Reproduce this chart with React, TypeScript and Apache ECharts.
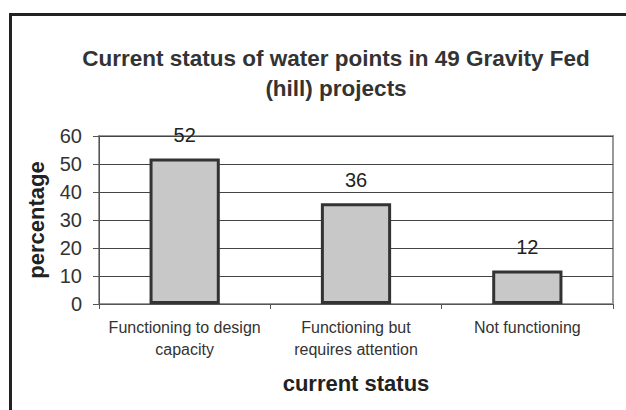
import React, { useEffect, useRef } from "react";
import * as echarts from "echarts";

const categories = ["Functioning to design\ncapacity", "Functioning but\nrequires attention", "Not functioning"];
const values = [52, 36, 12];
const titleText = "Current status of water points in 49 Gravity Fed\n(hill) projects";
const xName = "current status";
const yName = "percentage";

export default function App() {
  const ref = useRef<HTMLDivElement>(null);
  useEffect(() => {
    const chart = echarts.init(ref.current!, null, { renderer: "svg" });
    const font = "'Liberation Sans', Arial, sans-serif";
    chart.setOption({
      animation: false,
      backgroundColor: "#ffffff",
      textStyle: { fontFamily: font },
      title: {
        text: titleText,
        left: 331,
        textAlign: "center",
        top: 38,
        textStyle: { fontSize: 22.5, fontWeight: "bold", color: "#333", lineHeight: 30, fontFamily: font },
      },
      graphic: [
        {
          type: "polyline",
          shape: { points: [[10.5, 410], [10.5, 14.5], [626, 14.5]] },
          style: { stroke: "#222", lineWidth: 3, fill: "none" },
        },
      ],
      grid: {
        left: 99,
        right: 13,
        top: 136,
        bottom: 106,
        show: true,
        borderColor: "#999",
        borderWidth: 2,
      },
      xAxis: {
        type: "category",
        data: categories,
        name: xName,
        nameLocation: "middle",
        nameGap: 68,
        nameTextStyle: { fontSize: 22, fontWeight: "bold", color: "#222", fontFamily: font },
        axisLine: { lineStyle: { color: "#555", width: 1 } },
        axisTick: { show: true, alignWithLabel: false, length: 5, lineStyle: { color: "#555" } },
        axisLabel: { interval: 0, fontSize: 16, color: "#333", lineHeight: 22, margin: 12, fontFamily: font },
      },
      yAxis: {
        type: "value",
        min: 0,
        max: 60,
        interval: 10,
        name: yName,
        nameLocation: "middle",
        nameGap: 52,
        nameTextStyle: { fontSize: 22, fontWeight: "bold", color: "#222", fontFamily: font },
        axisLine: { show: true, lineStyle: { color: "#555", width: 1 } },
        axisTick: { show: true, length: 6, lineStyle: { color: "#555" } },
        axisLabel: { fontSize: 20, color: "#333", margin: 17, fontFamily: font },
        splitLine: { lineStyle: { color: "#444", width: 1 } },
      },
      series: [
        {
          type: "bar",
          data: values,
          barCategoryGap: "59%",
          itemStyle: { color: "#c8c8c8", borderColor: "#333", borderWidth: 3 },
          label: { show: true, position: "top", distance: 13, fontSize: 20, color: "#222", fontFamily: font },
        },
      ],
    });
    return () => chart.dispose();
  }, []);
  return (
    <div
      ref={ref}
      style={{ position: "fixed", left: 0, top: 0, width: 626, height: 410 }}
    />
  );
}
